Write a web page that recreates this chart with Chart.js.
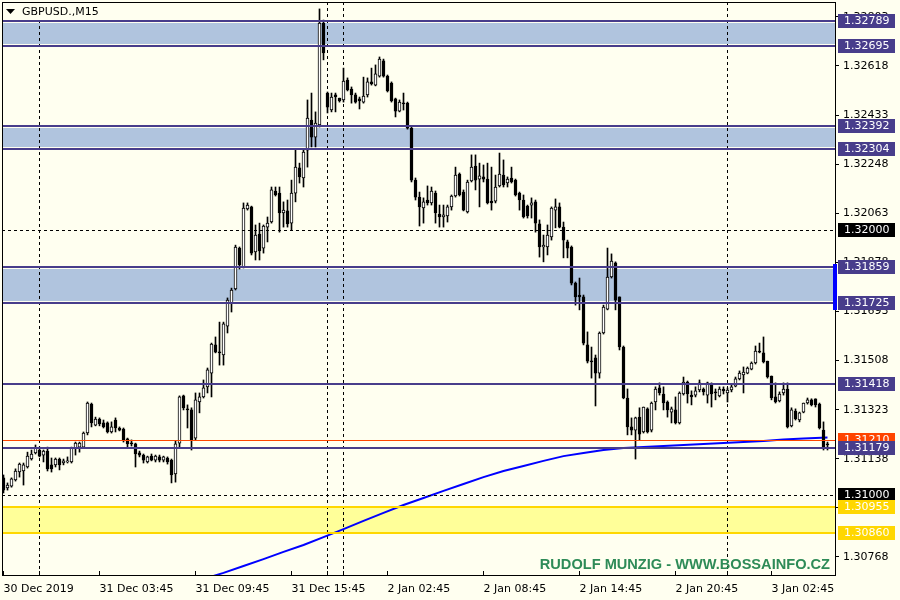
<!DOCTYPE html>
<html>
<head>
<meta charset="utf-8">
<script src="https://cdn.jsdelivr.net/npm/chart.js@4.4.1/dist/chart.umd.min.js"></script>
<style>
  html, body { margin: 0; padding: 0; background: #fffff0; }
  canvas { display: block; }
</style>
</head>
<body>
<canvas id="chart" width="900" height="600"></canvas>
<script>
// GBPUSD M15 candles (bar 0 = leftmost)
const tickIdx = [0, 24, 48, 72, 96, 120, 144, 168, 192];
const tickLabels = ['30 Dec 2019', '31 Dec 03:45', '31 Dec 09:45', '31 Dec 15:45', '2 Jan 02:45',
  '2 Jan 08:45', '2 Jan 14:45', '2 Jan 20:45', '3 Jan 02:45'];
const yTicks = [1.30768, 1.30953, 1.31138, 1.31323, 1.31508, 1.31693, 1.31878, 1.32063, 1.32248, 1.32433, 1.32618, 1.32803];

const opens = [
  1.31066,1.31028,1.31035,1.31058,1.31088,1.31092,1.31107,1.31137,1.31160,1.31171,
  1.31152,1.31167,1.31115,1.31115,1.31137,1.31122,1.31126,1.31126,1.31179,1.31182,
  1.31182,1.31235,1.31344,1.31265,1.31288,1.31273,1.31273,1.31239,1.31284,1.31254,
  1.31250,1.31213,1.31197,1.31194,1.31160,1.31152,1.31126,1.31148,1.31133,1.31145,
  1.31133,1.31141,1.31133,1.31081,1.31197,1.31375,1.31326,1.31322,1.31216,1.31352,
  1.31371,1.31409,1.31461,1.31567,1.31540,1.31529,1.31638,1.31725,1.31778,1.31932,
  1.31861,1.32079,1.32087,1.31917,1.31985,1.31932,1.32011,1.32030,1.32147,1.32139,
  1.32064,1.32072,1.32026,1.32139,1.32234,1.32196,1.32301,1.32414,1.32350,1.32396,
  1.32780,1.32516,1.32452,1.32509,1.32497,1.32490,1.32565,1.32531,1.32509,1.32494,
  1.32482,1.32509,1.32558,1.32546,1.32580,1.32637,1.32580,1.32554,1.32494,1.32448,
  1.32478,1.32478,1.32384,1.32188,1.32124,1.32083,1.32113,1.32102,1.32139,1.32060,
  1.32049,1.32053,1.32087,1.32128,1.32211,1.32143,1.32068,1.32185,1.32241,1.32192,
  1.32200,1.32192,1.32109,1.32109,1.32166,1.32207,1.32177,1.32196,1.32188,1.32139,
  1.32113,1.32090,1.32094,1.32106,1.32023,1.31936,1.31936,1.31974,1.32075,1.32087,
  1.32011,1.31955,1.31936,1.31800,1.31755,1.31748,1.31567,1.31506,1.31518,1.31461,
  1.31612,1.31702,1.31823,1.31876,1.31748,1.31559,1.31367,1.31258,1.31246,1.31295,
  1.31239,1.31326,1.31246,1.31352,1.31405,1.31382,1.31352,1.31314,1.31322,1.31273,
  1.31382,1.31427,1.31378,1.31378,1.31397,1.31401,1.31378,1.31420,1.31390,1.31375,
  1.31401,1.31386,1.31397,1.31412,1.31439,1.31454,1.31461,1.31476,1.31499,1.31544,
  1.31537,1.31506,1.31450,1.31371,1.31356,1.31386,1.31401,1.31262,1.31318,1.31284,
  1.31314,1.31348,1.31360,1.31364,1.31344,1.31246,1.31194
];
const highs = [
  1.31077,1.31047,1.31066,1.31100,1.31122,1.31122,1.31163,1.31171,1.31190,1.31182,
  1.31171,1.31182,1.31141,1.31141,1.31141,1.31137,1.31145,1.31182,1.31201,1.31201,
  1.31239,1.31352,1.31348,1.31295,1.31292,1.31284,1.31277,1.31277,1.31292,1.31258,
  1.31254,1.31216,1.31209,1.31197,1.31167,1.31156,1.31148,1.31156,1.31152,1.31152,
  1.31148,1.31145,1.31137,1.31205,1.31375,1.31378,1.31341,1.31330,1.31386,1.31386,
  1.31435,1.31480,1.31574,1.31597,1.31653,1.31653,1.31744,1.31781,1.31943,1.31936,
  1.32102,1.32102,1.32090,1.32019,1.32026,1.32019,1.32049,1.32162,1.32162,1.32162,
  1.32106,1.32113,1.32188,1.32301,1.32252,1.32301,1.32490,1.32516,1.32445,1.32833,
  1.32791,1.32520,1.32516,1.32516,1.32497,1.32610,1.32573,1.32539,1.32516,1.32501,
  1.32576,1.32573,1.32610,1.32622,1.32652,1.32644,1.32584,1.32558,1.32497,1.32490,
  1.32516,1.32482,1.32388,1.32196,1.32143,1.32121,1.32166,1.32162,1.32147,1.32094,
  1.32094,1.32094,1.32132,1.32237,1.32215,1.32151,1.32188,1.32283,1.32283,1.32252,
  1.32245,1.32252,1.32237,1.32207,1.32290,1.32264,1.32200,1.32237,1.32192,1.32143,
  1.32132,1.32094,1.32121,1.32113,1.32038,1.31981,1.32019,1.32087,1.32117,1.32102,
  1.32030,1.31962,1.31940,1.31804,1.31819,1.31755,1.31616,1.31559,1.31529,1.31616,
  1.31717,1.31932,1.31910,1.31880,1.31748,1.31563,1.31401,1.31292,1.31295,1.31330,
  1.31333,1.31330,1.31352,1.31409,1.31424,1.31409,1.31356,1.31333,1.31371,1.31390,
  1.31446,1.31431,1.31394,1.31409,1.31435,1.31405,1.31427,1.31424,1.31401,1.31409,
  1.31409,1.31405,1.31416,1.31446,1.31469,1.31484,1.31484,1.31503,1.31563,1.31574,
  1.31597,1.31506,1.31450,1.31424,1.31390,1.31424,1.31424,1.31330,1.31326,1.31314,
  1.31348,1.31367,1.31364,1.31364,1.31348,1.31277,1.31201
];
const lows = [
  1.31009,1.31020,1.31031,1.31054,1.31069,1.31039,1.31103,1.31133,1.31156,1.31145,
  1.31126,1.31092,1.31088,1.31107,1.31096,1.31115,1.31122,1.31122,1.31152,1.31163,
  1.31179,1.31228,1.31258,1.31262,1.31262,1.31254,1.31235,1.31235,1.31239,1.31243,
  1.31201,1.31182,1.31186,1.31107,1.31145,1.31122,1.31122,1.31130,1.31126,1.31126,
  1.31126,1.31118,1.31047,1.31050,1.31179,1.31322,1.31254,1.31171,1.31209,1.31311,
  1.31367,1.31386,1.31371,1.31537,1.31491,1.31491,1.31612,1.31691,1.31774,1.31853,
  1.31857,1.32075,1.31906,1.31887,1.31887,1.31913,1.31955,1.32026,1.32128,1.31992,
  1.32011,1.32011,1.32000,1.32106,1.32177,1.32162,1.32237,1.32313,1.32313,1.32388,
  1.32641,1.32441,1.32445,1.32445,1.32482,1.32482,1.32524,1.32478,1.32478,1.32456,
  1.32478,1.32501,1.32546,1.32543,1.32576,1.32576,1.32520,1.32482,1.32426,1.32445,
  1.32452,1.32380,1.32181,1.32113,1.32015,1.32026,1.32094,1.32094,1.32026,1.32011,
  1.32011,1.32030,1.32075,1.32124,1.32128,1.32072,1.32064,1.32181,1.32151,1.32087,
  1.32181,1.32098,1.32075,1.32102,1.32162,1.32162,1.32162,1.32177,1.32128,1.32075,
  1.32045,1.32045,1.32045,1.31992,1.31898,1.31880,1.31906,1.31962,1.32008,1.32008,
  1.31895,1.31895,1.31793,1.31717,1.31699,1.31567,1.31499,1.31442,1.31337,1.31442,
  1.31608,1.31699,1.31819,1.31699,1.31548,1.31364,1.31228,1.31228,1.31137,1.31209,
  1.31235,1.31235,1.31239,1.31322,1.31378,1.31322,1.31295,1.31273,1.31269,1.31269,
  1.31378,1.31348,1.31341,1.31371,1.31390,1.31378,1.31348,1.31333,1.31360,1.31371,
  1.31382,1.31352,1.31390,1.31409,1.31435,1.31386,1.31458,1.31473,1.31495,1.31537,
  1.31499,1.31442,1.31360,1.31348,1.31352,1.31378,1.31254,1.31258,1.31284,1.31277,
  1.31311,1.31344,1.31337,1.31333,1.31250,1.31171,1.31171
];
const closes = [
  1.31020,1.31039,1.31062,1.31092,1.31118,1.31115,1.31148,1.31156,1.31179,1.31148,
  1.31167,1.31100,1.31100,1.31137,1.31115,1.31130,1.31130,1.31179,1.31197,1.31197,
  1.31235,1.31348,1.31273,1.31288,1.31269,1.31258,1.31239,1.31258,1.31254,1.31246,
  1.31209,1.31194,1.31194,1.31156,1.31152,1.31133,1.31145,1.31133,1.31148,1.31133,
  1.31145,1.31126,1.31077,1.31194,1.31371,1.31330,1.31322,1.31209,1.31360,1.31371,
  1.31405,1.31473,1.31570,1.31540,1.31537,1.31646,1.31736,1.31774,1.31936,1.31868,
  1.32083,1.32094,1.31913,1.31981,1.31921,1.32015,1.32026,1.32151,1.32132,1.32064,
  1.32075,1.32023,1.32139,1.32237,1.32200,1.32294,1.32422,1.32350,1.32403,1.32780,
  1.32667,1.32463,1.32501,1.32501,1.32486,1.32561,1.32528,1.32509,1.32482,1.32486,
  1.32505,1.32558,1.32550,1.32588,1.32644,1.32580,1.32524,1.32486,1.32448,1.32482,
  1.32475,1.32384,1.32188,1.32124,1.32087,1.32106,1.32102,1.32147,1.32064,1.32049,
  1.32057,1.32087,1.32128,1.32207,1.32132,1.32075,1.32181,1.32237,1.32188,1.32204,
  1.32192,1.32102,1.32102,1.32162,1.32211,1.32170,1.32192,1.32181,1.32132,1.32113,
  1.32049,1.32053,1.32102,1.32026,1.31936,1.31943,1.31981,1.32083,1.32087,1.32011,
  1.31962,1.31932,1.31800,1.31748,1.31748,1.31574,1.31506,1.31503,1.31461,1.31612,
  1.31710,1.31823,1.31883,1.31736,1.31559,1.31367,1.31258,1.31246,1.31292,1.31231,
  1.31333,1.31239,1.31348,1.31401,1.31386,1.31348,1.31322,1.31326,1.31273,1.31386,
  1.31427,1.31382,1.31371,1.31394,1.31424,1.31390,1.31424,1.31382,1.31386,1.31401,
  1.31394,1.31397,1.31409,1.31439,1.31461,1.31465,1.31480,1.31499,1.31544,1.31540,
  1.31503,1.31446,1.31367,1.31352,1.31382,1.31401,1.31258,1.31322,1.31288,1.31311,
  1.31348,1.31360,1.31341,1.31341,1.31254,1.31179,1.31190
];

// blue moving average, sampled every 5 bars
const maIdx = [50, 55, 60, 65, 70, 75, 80, 85, 90, 95, 100, 105, 110, 115, 120, 125, 130, 135,
  140, 145, 150, 155, 160, 165, 170, 175, 180, 185, 190, 195, 200, 206];
const maVals = [1.30685, 1.30708, 1.30734, 1.30760, 1.30787, 1.30813, 1.30843, 1.30873, 1.30904,
  1.30934, 1.30964, 1.30990, 1.31017, 1.31043, 1.31069, 1.31092, 1.31111, 1.31130, 1.31148,
  1.31160, 1.31171, 1.31179, 1.31182, 1.31186, 1.31190, 1.31194, 1.31197, 1.31201, 1.31205,
  1.31211, 1.31214, 1.31218];

// drawn objects
const blueZones = [[1.32789, 1.32695], [1.32392, 1.32304], [1.31859, 1.31725]];
const blueLines = [1.31418, 1.31179];
const redLine = 1.31210;
const dashLevels = [1.32000, 1.31000];
const yellowZone = [1.30955, 1.30860];
const vLineIdx = [9, 81, 85, 181];
const markerRange = [1.31872, 1.31699];

const BG = '#fffff0';
const NAVY = '#483d8b';
const FONT = "'DejaVu Sans'";

Chart.defaults.font.family = FONT;
Chart.defaults.font.size = 11;
Chart.defaults.color = '#000';

const bodies = opens.map((o, i) => ({ x: i, y: [o, closes[i]] }));
const wicks = lows.map((l, i) => ({ x: i, y: [l, highs[i]] }));
const ma = maIdx.map((i, k) => ({ x: i, y: maVals[k] }));

function priceBox(ctx, y, v, bg, fg) {
  const py = Math.round(y.getPixelForValue(v));
  ctx.fillStyle = bg;
  ctx.fillRect(838, py - 7, 57, 14);
  ctx.fillStyle = fg;
  ctx.textAlign = 'left';
  ctx.textBaseline = 'middle';
  ctx.fillText(v.toFixed(5), 844, py + 0.5);
}

// no extra room for labels at the ends of the axes
function noPad(s) {
  s.paddingTop = 0;
  s.paddingBottom = 0;
  s.paddingLeft = 0;
  s.paddingRight = 0;
}

const mtPlugin = {
  id: 'mt',
  beforeDraw(chart) {
    const ctx = chart.ctx;
    ctx.save();
    ctx.fillStyle = BG;
    ctx.fillRect(0, 0, chart.width, chart.height);
    ctx.restore();
  },
  beforeDatasetsDraw(chart) {
    const { ctx, chartArea: a, scales: { x, y } } = chart;
    ctx.save();
    ctx.beginPath();
    ctx.rect(a.left, a.top, a.width, a.height);
    ctx.clip();
    // zone fills
    ctx.fillStyle = '#b0c4de';
    blueZones.forEach(([hi, lo]) => {
      const y1 = Math.round(y.getPixelForValue(hi));
      const y2 = Math.round(y.getPixelForValue(lo));
      ctx.fillRect(a.left, y1 + 2, a.width, y2 - y1 - 4);
    });
    const yy1 = Math.round(y.getPixelForValue(yellowZone[0]));
    const yy2 = Math.round(y.getPixelForValue(yellowZone[1]));
    ctx.fillStyle = '#ffff99';
    ctx.fillRect(a.left, yy1, a.width, yy2 - yy1);
    // vertical dashed lines
    ctx.strokeStyle = '#000';
    ctx.lineWidth = 1;
    ctx.setLineDash([3, 3]);
    vLineIdx.forEach(i => {
      const px = Math.floor(x.getPixelForValue(i)) + 0.5;
      ctx.beginPath();
      ctx.moveTo(px, a.top);
      ctx.lineTo(px, a.bottom);
      ctx.stroke();
    });
    ctx.restore();
  },
  afterDatasetsDraw(chart) {
    const { ctx, chartArea: a, scales: { y } } = chart;
    ctx.save();
    // dashed round levels
    ctx.strokeStyle = '#000';
    ctx.lineWidth = 1;
    ctx.setLineDash([3, 3]);
    dashLevels.forEach(v => {
      const py = Math.round(y.getPixelForValue(v)) + 0.5;
      ctx.beginPath();
      ctx.moveTo(a.left, py);
      ctx.lineTo(a.right, py);
      ctx.stroke();
    });
    ctx.setLineDash([]);
    // yellow zone borders
    ctx.fillStyle = '#ffd700';
    yellowZone.forEach(v => {
      const py = Math.round(y.getPixelForValue(v));
      ctx.fillRect(a.left, py - 1, a.width, 2);
    });
    // red line
    ctx.fillStyle = '#ff4500';
    ctx.fillRect(a.left, Math.round(y.getPixelForValue(redLine)), a.width, 1);
    // blue levels
    ctx.fillStyle = NAVY;
    blueZones.flat().concat(blueLines).forEach(v => {
      const py = Math.round(y.getPixelForValue(v));
      ctx.fillRect(a.left, py - 1, a.width, 2);
    });
    ctx.restore();
  },
  afterDraw(chart) {
    const { ctx, chartArea: a, scales: { x, y } } = chart;
    ctx.save();
    // frame
    ctx.strokeStyle = '#000';
    ctx.lineWidth = 1;
    ctx.strokeRect(a.left + 0.5, a.top + 0.5, a.width - 1, a.height - 1);
    // small marks on the time axis
    tickIdx.concat(vLineIdx).forEach(i => {
      const px = Math.floor(x.getPixelForValue(i)) + 0.5;
      ctx.beginPath();
      ctx.moveTo(px, a.bottom - 5);
      ctx.lineTo(px, a.bottom);
      ctx.stroke();
    });
    // price labels
    ctx.font = '11px ' + FONT;
    blueZones.forEach(z => z.forEach(v => priceBox(ctx, y, v, NAVY, '#fff')));
    dashLevels.forEach(v => priceBox(ctx, y, v, '#000', '#fff'));
    priceBox(ctx, y, redLine, '#ff4500', '#fff');
    blueLines.forEach(v => priceBox(ctx, y, v, NAVY, '#fff'));
    yellowZone.forEach(v => priceBox(ctx, y, v, '#ffd700', '#fff'));
    // blue marker on the price axis
    const m1 = Math.round(y.getPixelForValue(markerRange[0]));
    const m2 = Math.round(y.getPixelForValue(markerRange[1]));
    ctx.fillStyle = '#0000ff';
    ctx.fillRect(a.right - 3, m1, 4, m2 - m1);
    // title
    ctx.fillStyle = BG;
    ctx.fillRect(a.left + 1, a.top + 1, 97, 17);
    ctx.fillStyle = '#000';
    ctx.beginPath();
    ctx.moveTo(6, 9);
    ctx.lineTo(15, 9);
    ctx.lineTo(10.5, 14);
    ctx.closePath();
    ctx.fill();
    ctx.textAlign = 'left';
    ctx.textBaseline = 'middle';
    ctx.fillText('GBPUSD.,M15', 22, 12.5);
    // watermark
    ctx.font = "bold 14.6px 'Liberation Sans'";
    ctx.fillStyle = '#2e8b57';
    ctx.textAlign = 'right';
    ctx.textBaseline = 'alphabetic';
    ctx.fillText('RUDOLF MUNZIG - WWW.BOSSAINFO.CZ', 830, 569);
    ctx.restore();
  }
};

new Chart(document.getElementById('chart'), {
  type: 'bar',
  data: {
    datasets: [
      {
        label: 'body',
        data: bodies,
        order: 0,
        grouped: false,
        barThickness: 3,
        minBarLength: 1,
        borderWidth: 1,
        borderSkipped: false,
        borderColor: '#000',
        backgroundColor: c => {
          const d = c.raw;
          return d && d.y[1] >= d.y[0] ? '#fff' : '#000';
        }
      },
      {
        label: 'wick',
        data: wicks,
        order: 1,
        grouped: false,
        barThickness: 1,
        borderWidth: 0,
        backgroundColor: '#000'
      },
      {
        type: 'line',
        label: 'MA',
        data: ma,
        order: 2,
        borderColor: '#0000ff',
        borderWidth: 2,
        pointRadius: 0,
        tension: 0
      }
    ]
  },
  options: {
    responsive: false,
    animation: false,
    events: [],
    layout: { padding: { left: 2, top: 2, right: 0, bottom: 0 } },
    plugins: { legend: { display: false }, tooltip: { enabled: false } },
    scales: {
      x: {
        type: 'linear',
        offset: false,
        min: -0.375,
        max: 208.125,
        bounds: 'data',
        afterFit(s) { s.height = 24; noPad(s); },
        afterBuildTicks(s) { s.ticks = tickIdx.map(v => ({ value: v })); },
        ticks: {
          autoSkip: false,
          maxRotation: 0,
          align: 'start',
          padding: -1,
          callback: (v, i) => tickLabels[i]
        },
        grid: { display: false },
        border: { display: false }
      },
      y: {
        position: 'right',
        min: 1.306963,
        max: 1.328591,
        beginAtZero: false,
        bounds: 'data',
        afterFit(s) { s.width = 64; noPad(s); },
        afterBuildTicks(s) { s.ticks = yTicks.map(v => ({ value: v })); },
        ticks: {
          padding: 4,
          callback: v => v.toFixed(5)
        },
        grid: { drawOnChartArea: false, drawTicks: true, tickLength: 3, color: '#000' },
        border: { display: false }
      }
    }
  },
  plugins: [mtPlugin]
});
</script>
</body>
</html>
